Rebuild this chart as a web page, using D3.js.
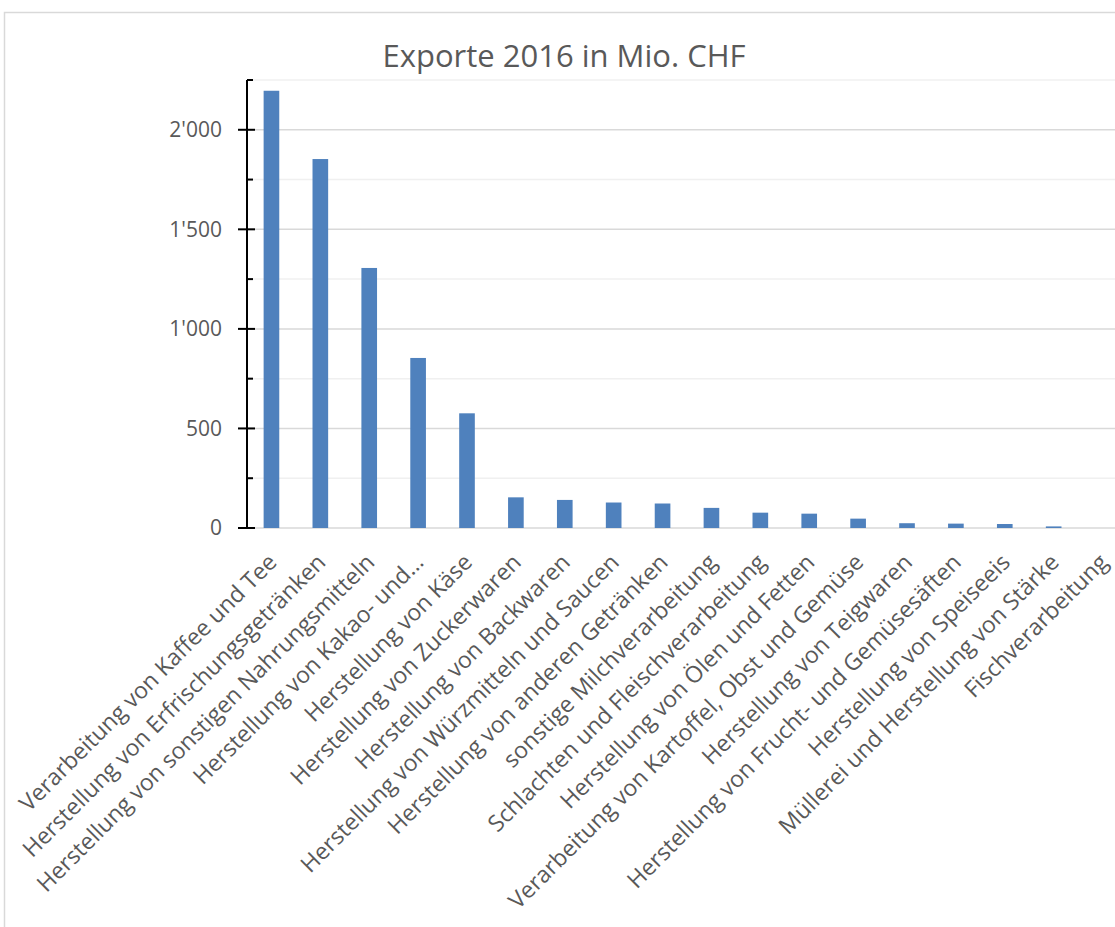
<!DOCTYPE html>
<html>
<head>
<meta charset="utf-8">
<script src="https://cdn.jsdelivr.net/npm/d3@7"></script>
<style>
  body { margin: 0; background: #fff; }
  svg { display: block; font-family: 'Open Sans', sans-serif; }
</style>
</head>
<body>
<svg class="chart" width="1115" height="927"></svg>
<script>
const categories = [
  'Verarbeitung von Kaffee und Tee',
  'Herstellung von Erfrischungsgetränken',
  'Herstellung von sonstigen Nahrungsmitteln',
  'Herstellung von Kakao- und…',
  'Herstellung von Käse',
  'Herstellung von Zuckerwaren',
  'Herstellung von Backwaren',
  'Herstellung von Würzmitteln und Saucen',
  'Herstellung von anderen Getränken',
  'sonstige Milchverarbeitung',
  'Schlachten und Fleischverarbeitung',
  'Herstellung von Ölen und Fetten',
  'Verarbeitung von Kartoffel, Obst und Gemüse',
  'Herstellung von Teigwaren',
  'Herstellung von Frucht- und Gemüsesäften',
  'Herstellung von Speiseeis',
  'Müllerei und Herstellung von Stärke',
  'Fischverarbeitung'
]
const exports2016 = [2196, 1853, 1306, 854, 576, 154, 141, 128, 123, 101, 77, 72, 47, 24, 22, 20, 8, 0]
const majorTicks = [0, 500, 1000, 1500, 2000]
const minorTicks = [250, 750, 1250, 1750, 2250]
const title = 'Exporte 2016 in Mio. CHF'

const textColor = '#595959'
const barColor = '#4f81bd'

const chart = d3.select('.chart')

// outer chart frame (only left and top edge visible)
chart.append('path')
  .attr('d', 'M 4.5 927 L 4.5 12.5 L 1115 12.5')
  .attr('fill', 'none')
  .attr('stroke', '#d9d9d9')
  .attr('stroke-width', 1.5)

const plotLeft = 247
const plotRight = 1127
const plotTop = 80
const plotBottom = 528

const xSc = d3.scaleBand()
  .domain(categories)
  .range([plotLeft, plotRight])
  .paddingInner(0.68)
  .paddingOuter(0.34)

const ySc = d3.scaleLinear()
  .domain([0, 2250])
  .range([plotBottom, plotTop])

const fmt = d3.formatLocale({ decimal: '.', thousands: "'", grouping: [3], currency: ['', ''] }).format(',')

// gridlines
chart.selectAll('.minor-grid')
  .data(minorTicks)
  .enter()
  .append('line')
  .attr('x1', plotLeft)
  .attr('x2', 1115)
  .attr('y1', d => ySc(d))
  .attr('y2', d => ySc(d))
  .attr('stroke', '#f0f0f0')
  .attr('stroke-width', 1.5)

chart.selectAll('.major-grid')
  .data(majorTicks)
  .enter()
  .append('line')
  .attr('x1', plotLeft)
  .attr('x2', 1115)
  .attr('y1', d => ySc(d))
  .attr('y2', d => ySc(d))
  .attr('stroke', '#d9d9d9')
  .attr('stroke-width', 1.5)

// bars
chart.selectAll('.bar')
  .data(exports2016)
  .enter()
  .append('rect')
  .attr('x', (d, i) => xSc(categories[i]))
  .attr('width', xSc.bandwidth())
  .attr('y', d => ySc(d))
  .attr('height', d => ySc(0) - ySc(d))
  .attr('fill', barColor)

// y axis: major ticks cross the line, minor ticks inside
const yAxis = chart.append('g')
yAxis.append('g')
  .attr('transform', `translate(${plotLeft},0)`)
  .call(d3.axisLeft(ySc).tickValues(majorTicks).tickSize(0).tickPadding(25).tickFormat(fmt))
  .call(g => g.select('.domain').remove())
  .call(g => g.selectAll('text')
    .attr('fill', textColor)
    .style('font-size', '21px')
    .style('font-family', "'Open Sans', sans-serif"))

yAxis.selectAll('.major')
  .data(majorTicks)
  .enter()
  .append('line')
  .attr('x1', plotLeft - 9)
  .attr('x2', plotLeft + 8)
  .attr('y1', d => ySc(d))
  .attr('y2', d => ySc(d))
  .attr('stroke', 'black')
  .attr('stroke-width', 2)

yAxis.selectAll('.minor')
  .data(minorTicks)
  .enter()
  .append('line')
  .attr('x1', plotLeft)
  .attr('x2', plotLeft + 6)
  .attr('y1', d => ySc(d))
  .attr('y2', d => ySc(d))
  .attr('stroke', 'black')
  .attr('stroke-width', 2)

yAxis.append('line')
  .attr('x1', plotLeft)
  .attr('x2', plotLeft)
  .attr('y1', ySc(2250))
  .attr('y2', ySc(0))
  .attr('stroke', 'black')
  .attr('stroke-width', 2)

// category labels, rotated -45deg, top-right corner near the bar centre
chart.selectAll('.cat')
  .data(categories)
  .enter()
  .append('text')
  .attr('transform', d => `translate(${xSc(d) + xSc.bandwidth() / 2 - 5},${plotBottom + 24}) rotate(-45)`)
  .attr('text-anchor', 'end')
  .attr('dy', '0.72em')
  .attr('fill', textColor)
  .style('font-size', '23px')
  .text(d => d)

// title
chart.append('text')
  .attr('x', 564)
  .attr('y', 67)
  .attr('text-anchor', 'middle')
  .attr('fill', textColor)
  .style('font-size', '31px')
  .text(title)
</script>
</body>
</html>
